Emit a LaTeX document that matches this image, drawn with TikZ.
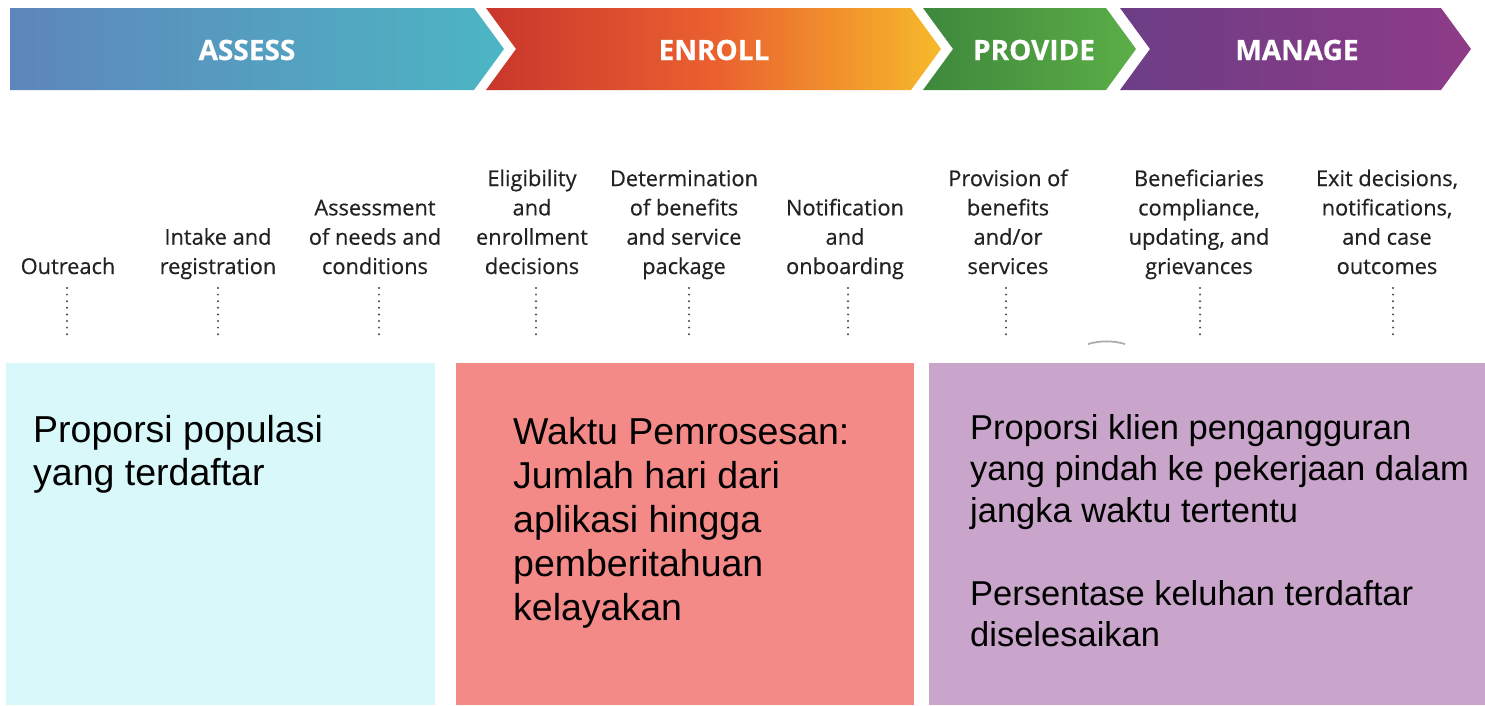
\documentclass[tikz,border=0pt]{standalone}
\usepackage{fontspec}
\newfontfamily\stepfont[FakeBold=0.45]{Open Sans}
\newfontfamily\boxfont{Liberation Sans}
\definecolor{assessL}{HTML}{5E86BC}
\definecolor{assessR}{HTML}{4CB6C3}
\definecolor{enrollL}{HTML}{C9362C}
\definecolor{enrollM}{HTML}{EA602F}
\definecolor{enrollR}{HTML}{F6BA2A}
\definecolor{provideL}{HTML}{3E883C}
\definecolor{provideR}{HTML}{5BAE47}
\definecolor{manageL}{HTML}{6C3E86}
\definecolor{manageR}{HTML}{8E3B87}
\definecolor{boxcyan}{HTML}{D8F8FA}
\definecolor{boxred}{HTML}{F48A87}
\definecolor{boxpurple}{HTML}{C9A4CB}
\definecolor{steptext}{HTML}{222222}
\definecolor{dotgray}{HTML}{444444}
\pgfdeclarehorizontalshading{enrollshade}{100bp}{color(0bp)=(enrollL); color(25bp)=(enrollL); color(50bp)=(enrollM); color(75bp)=(enrollR); color(100bp)=(enrollR)}
\begin{document}
\begin{tikzpicture}[x=1pt,y=-1pt,
  phase/.style={text=white,font=\stepfont\bfseries\fontsize{28}{30}\selectfont,inner sep=0pt},
  steplabel/.style={anchor=base,inner sep=0pt,text=steptext},
  dotline/.style={draw=dotgray,line width=2.2pt,line cap=round,dash pattern=on 0pt off 6.6pt},
  boxline/.style={anchor=base west,inner sep=0pt,text=black},
  bigfont/.style={font=\boxfont\fontsize{37.5}{43}\selectfont},
  midfont/.style={font=\boxfont\fontsize{34.5}{41}\selectfont}]
\useasboundingbox[fill=white] (0,0) rectangle (1485,705);
% header chevrons
\shade[left color=assessL,right color=assessR] (10,8) -- (474,8) -- (504,49) -- (474,90) -- (10,90) -- cycle;
\shade[shading=enrollshade] (486,8) -- (911,8) -- (941,49) -- (911,90) -- (486,90) -- (516,49) -- cycle;
\shade[left color=provideL,right color=provideR] (923,8) -- (1106,8) -- (1136,49) -- (1106,90) -- (923,90) -- (953,49) -- cycle;
\shade[left color=manageL,right color=manageR] (1120,8) -- (1441,8) -- (1471,49) -- (1441,90) -- (1120,90) -- (1150,49) -- cycle;
\node[phase] (assess) at (247,50) {ASSESS};
\node[phase] (enroll) at (714,50) {ENROLL};
\node[phase] (provide) at (1034,50) {PROVIDE};
\node[phase] (manage) at (1297,50) {MANAGE};
% step labels
\newcommand\steptext[1]{\parbox[b]{180pt}{\centering\stepfont\fontsize{21.8}{29.3}\selectfont #1}}
\node[steplabel] (s1) at (68,274) {\steptext{Outreach}};
\node[steplabel] (s2) at (218,274) {\steptext{Intake and\\registration}};
\node[steplabel] (s3) at (375,274) {\steptext{Assessment\\of needs and\\conditions}};
\node[steplabel] (s4) at (532,274) {\steptext{Eligibility\\and\\enrollment\\decisions}};
\node[steplabel] (s5) at (684,274) {\steptext{Determination\\of benefits\\and service\\package}};
\node[steplabel] (s6) at (845,274) {\steptext{Notification\\and\\onboarding}};
\node[steplabel] (s7) at (1008,274) {\steptext{Provision of\\benefits\\and/or\\services}};
\node[steplabel] (s8) at (1199,274) {\steptext{Beneficiaries\\compliance,\\updating, and\\grievances}};
\node[steplabel] (s9) at (1387,274) {\steptext{Exit decisions,\\notifications,\\and case\\outcomes}};
% dotted lines
\foreach \n/\x in {s1/67,s2/218,s3/379,s4/536,s5/689,s6/848,s7/1006,s8/1200,s9/1393}{
  \coordinate (\n top) at (\x,288);
  \coordinate (\n bot) at (\x,340);
  \draw[dotline] (\n top) -- (\n bot);
}
% small grey arc
\draw[gray!65,line width=1.8pt] (1088,344) .. controls (1100,340.5) and (1113,340.5) .. (1125,344);
% bottom boxes
\fill[boxcyan] (6,363) rectangle (435,705);
\fill[boxred] (456,363) rectangle (914,705);
\fill[boxpurple] (929,363) rectangle (1485,705);
\node[boxline,bigfont] (c1) at (33,442) {Proporsi populasi};
\node[boxline,bigfont] (c2) at (33,485) {yang terdaftar};
\node[boxline,bigfont] (r1) at (513,444) {Waktu Pemrosesan:};
\node[boxline,bigfont] (r2) at (513,488) {Jumlah hari dari};
\node[boxline,bigfont] (r3) at (513,532) {aplikasi hingga};
\node[boxline,bigfont] (r4) at (513,576) {pemberitahuan};
\node[boxline,bigfont] (r5) at (513,620) {kelayakan};
\node[boxline,midfont] (p1) at (970,439) {Proporsi klien pengangguran};
\node[boxline,midfont] (p2) at (970,480) {yang pindah ke pekerjaan dalam};
\node[boxline,midfont] (p3) at (970,522) {jangka waktu tertentu};
\node[boxline,midfont] (p4) at (970,605) {Persentase keluhan terdaftar};
\node[boxline,midfont] (p5) at (970,646) {diselesaikan};
\end{tikzpicture}
\end{document}
